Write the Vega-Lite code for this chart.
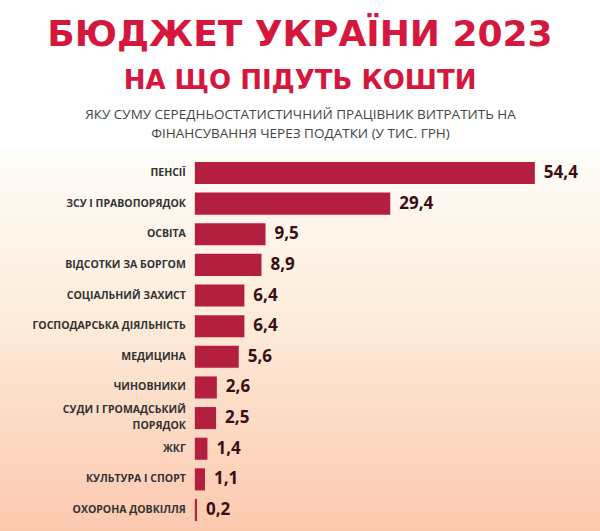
{
  "$schema": "https://vega.github.io/schema/vega-lite/v6.json",
  "width": 600,
  "height": 383,
  "autosize": "none",
  "padding": {"top": 150, "left": 0, "right": 0, "bottom": 0},
  "background": "#ffffff",
  "title": {
    "text": "БЮДЖЕТ УКРАЇНИ 2023",
    "subtitle": "НА ЩО ПІДУТЬ КОШТИ",
    "anchor": "middle",
    "frame": "group",
    "font": "DejaVu Sans",
    "fontSize": 36,
    "fontWeight": "bold",
    "color": "#d5173d",
    "subtitleFont": "DejaVu Sans",
    "subtitleFontSize": 26,
    "subtitleFontWeight": "bold",
    "subtitleColor": "#d5173d",
    "subtitlePadding": 14,
    "offset": 12
  },
  "config": {
    "view": {
      "stroke": null,
      "fill": {
        "gradient": "linear",
        "x1": 0, "y1": 0, "x2": 0, "y2": 1,
        "stops": [
          {"offset": 0, "color": "#fefcf8"},
          {"offset": 0.4, "color": "#fdeedd"},
          {"offset": 1, "color": "#fcc8ae"}
        ]
      }
    }
  },
  "data": {
    "values": [
      {"cat": "ПЕНСІЇ", "value": 54.4, "label": "54,4"},
      {"cat": "ЗСУ І ПРАВОПОРЯДОК", "value": 29.4, "label": "29,4"},
      {"cat": "ОСВІТА", "value": 9.5, "label": "9,5"},
      {"cat": "ВІДСОТКИ ЗА БОРГОМ", "value": 8.9, "label": "8,9"},
      {"cat": "СОЦІАЛЬНИЙ ЗАХИСТ", "value": 6.4, "label": "6,4"},
      {"cat": "ГОСПОДАРСЬКА ДІЯЛЬНІСТЬ", "value": 6.4, "label": "6,4"},
      {"cat": "МЕДИЦИНА", "value": 5.6, "label": "5,6"},
      {"cat": "ЧИНОВНИКИ", "value": 2.6, "label": "2,6"},
      {"cat": "СУДИ І ГРОМАДСЬКИЙ ПОРЯДОК", "lines": ["СУДИ І ГРОМАДСЬКИЙ", "ПОРЯДОК"], "value": 2.5, "label": "2,5"},
      {"cat": "ЖКГ", "value": 1.4, "label": "1,4"},
      {"cat": "КУЛЬТУРА І СПОРТ", "value": 1.1, "label": "1,1"},
      {"cat": "ОХОРОНА ДОВКІЛЛЯ", "value": 0.2, "label": "0,2"}
    ]
  },
  "encoding": {
    "y": {
      "field": "cat",
      "type": "nominal",
      "sort": null,
      "scale": {"paddingInner": 0.28, "paddingOuter": 0.39},
      "axis": null
    }
  },
  "layer": [
    {
      "mark": {"type": "bar", "color": "#b41e3f"},
      "encoding": {
        "x": {
          "field": "value",
          "type": "quantitative",
          "scale": {"type": "pow", "exponent": 0.9, "domain": [-29.3, 66.1], "nice": false, "zero": false},
          "axis": {
            "orient": "top",
            "title": ["ЯКУ СУМУ СЕРЕДНЬОСТАТИСТИЧНИЙ ПРАЦІВНИК ВИТРАТИТЬ НА", "ФІНАНСУВАННЯ ЧЕРЕЗ ПОДАТКИ (У ТИС. ГРН)"],
            "titleFont": "Open Sans",
            "titleFontSize": 13.5,
            "titleFontWeight": "normal",
            "titleColor": "#444444",
            "titleLineHeight": 19,
            "titlePadding": 10,
            "labels": false,
            "ticks": false,
            "domain": false,
            "grid": false
          }
        }
      }
    },
    {
      "mark": {"type": "text", "align": "left", "baseline": "middle", "dx": 9, "font": "Open Sans", "fontSize": 17, "fontWeight": "bold", "color": "#3b0e14"},
      "encoding": {
        "x": {"field": "value", "type": "quantitative"},
        "text": {"field": "label"}
      }
    },
    {
      "transform": [{"filter": "!isValid(datum.lines)"}],
      "mark": {"type": "text", "align": "right", "baseline": "middle", "dx": -9, "font": "Open Sans", "fontSize": 10.5, "fontWeight": "bold", "color": "#333333"},
      "encoding": {
        "x": {"datum": 0, "type": "quantitative"},
        "text": {"field": "cat"}
      }
    },
    {
      "transform": [{"filter": "isValid(datum.lines)"}],
      "mark": {"type": "text", "align": "right", "baseline": "middle", "dx": -9, "dy": -8, "font": "Open Sans", "fontSize": 10.5, "fontWeight": "bold", "color": "#333333", "lineHeight": 16},
      "encoding": {
        "x": {"datum": 0, "type": "quantitative"},
        "text": {"field": "lines"}
      }
    }
  ]
}
